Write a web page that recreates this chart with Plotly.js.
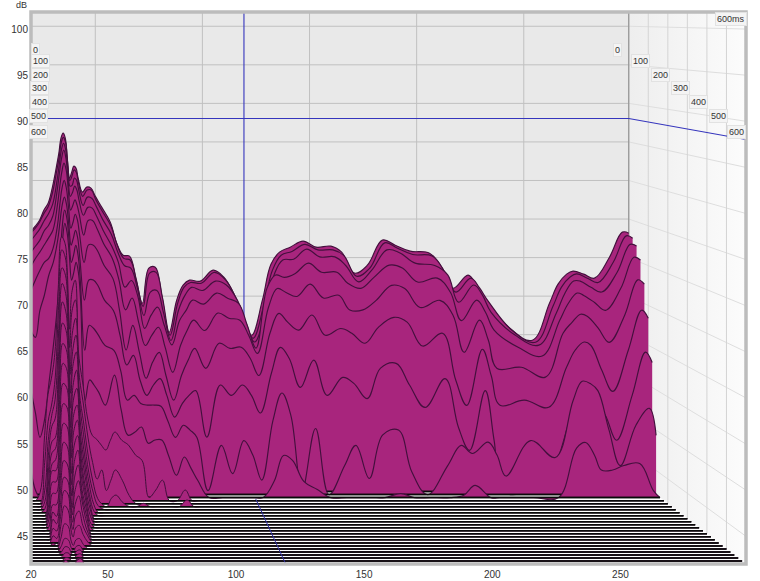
<!DOCTYPE html>
<html><head><meta charset="utf-8">
<script src="https://cdn.plot.ly/plotly-3.0.1.min.js"></script>
<style>html,body{margin:0;padding:0;background:#fff}#c{width:760px;height:581px}</style>
</head><body><div id="c"></div>
<script>
const freqs=[20,22,24,26,28,30,32,33,34,35,36,37,38,39,40,41,42,44,46,48,50,53,57,60,63,66,69,72,75,78,81,84.5,88,91,94,99,105,110,115,119,123,128,132,136,141,147,153,160,165,171,177,184,190,197,206,212,217,224,228,232,243,254,262,266,270,273,278,283,290,296,299];
const ms0=[73.43,74.08,74.85,76.15,77.06,79.14,81.99,83.55,85.5,86.15,85.5,82.64,80.31,81.08,81.86,81.6,80.31,78.49,79.14,79.01,77.97,76.54,74.6,71.87,70.31,70.18,67.33,64.08,68.63,68.75,65.12,60.32,64.47,66.42,67.07,66.94,68.37,67.46,65.12,62.14,59.93,64.47,69.14,70.7,71.35,72.13,71.35,71.48,70.7,67.98,69.01,72.26,71.61,70.83,70.57,68.63,66.03,67.72,66.42,64.73,60.97,59.28,64.08,66.55,67.85,68.24,67.85,67.33,70.05,73.3,73.17];
const ms20=[73.4,74.0,74.8,75.9,76.8,78.6,81.5,83.0,85.0,85.7,85.1,82.4,80.1,80.7,81.5,81.2,79.9,78.1,78.9,78.9,77.7,76.2,74.3,71.8,70.1,69.9,67.0,63.9,68.2,68.3,65.0,60.2,64.3,66.4,67.0,66.9,68.3,67.4,65.0,62.1,59.8,64.1,68.6,70.5,71.0,71.9,71.2,71.2,70.5,67.8,68.8,72.1,71.4,70.6,70.4,68.3,65.75,67.55,66.3,64.6,60.85,59.3,63.9,66.4,67.7,68.1,67.55,67.0,69.6,73.0,72.7];
const ms40=[72.6,73.3,74.05,75.1,76.0,77.25,80.3,82.25,84.2,85.05,84.2,81.6,79.55,79.7,80.6,80.3,79.05,77.1,78.15,78.0,77.0,75.3,73.4,71.1,69.4,69.05,66.5,63.0,66.0,66.2,63.4,59.8,63.7,65.6,66.6,66.2,67.4,66.9,65.0,62.1,59.6,63.4,68.2,70.1,70.2,71.5,70.5,70.5,69.4,67.3,68.8,71.4,71.0,69.7,69.4,68.2,64.7,66.9,65.6,63.4,60.5,59.2,63.3,65.85,67.4,67.4,66.6,66.0,68.5,72.1,71.9];
const ms60=[71.3,72.05,72.8,74.0,74.7,75.9,79.2,81.35,83.25,84.3,83.25,80.45,78.4,78.9,79.7,79.2,77.9,76.0,77.0,76.9,75.9,74.1,72.05,70.0,66.85,67.7,65.6,61.6,63.3,64.3,62.0,59.5,62.6,63.9,65.2,64.7,66.1,65.45,64.8,62.0,59.1,66.7,68.4,68.1,68.6,69.9,68.75,68.75,67.35,66.7,68.1,69.65,69.3,67.5,68.0,66.2,62.6,65.2,63.7,61.4,59.2,58.1,62.6,64.8,66.1,65.8,64.9,63.9,66.7,70.65,70.3];
const ms80=[69.7,70.7,71.5,72.4,73.3,74.3,77.4,79.6,81.6,82.75,81.9,79.3,76.8,77.4,78.1,77.4,76.2,73.65,75.5,75.5,74.5,72.6,70.7,68.0,64.2,65.7,62.6,59.7,61.0,62.0,59.5,56.3,59.7,61.6,62.9,61.6,63.8,63.15,62.9,61.0,58.7,64.5,66.9,66.4,65.9,67.45,65.7,66.05,64.2,64.2,65.4,67.3,66.9,64.5,65.4,63.5,58.85,62.9,60.4,56.8,56.95,55.7,61.25,62.6,63.65,63.4,61.9,60.1,63.5,68.0,67.45];
const ms100=[66.9,68.2,69.4,70.4,70.9,72.2,75.1,77.6,79.7,80.7,79.7,77.2,74.7,75.45,76.45,75.7,73.8,70.4,72.6,72.6,71.9,70.05,68.4,64.4,59.4,62.5,59.1,55.85,57.9,59.1,56.2,53.1,56.2,58.1,59.6,57.1,60.25,59.6,59.75,58.4,56.2,61.5,64.0,62.9,61.9,63.8,61.25,62.1,61.5,60.25,62.25,63.5,62.9,59.9,61.5,55.6,52.45,59.5,56.2,52.45,53.1,52.2,57.2,59.4,60.4,60.0,56.85,54.2,59.4,64.4,63.4];
const ms120=[62.1,61.25,64.6,66.5,69.0,70.6,73.4,75.6,77.75,78.75,77.75,75.25,72.75,73.6,74.6,73.6,70.9,65.9,68.4,68.4,67.75,65.9,64.6,61.5,57.8,59.0,55.9,54.0,55.3,56.1,54.0,51.3,53.0,54.0,54.6,48.8,55.3,54.0,55.3,54.0,51.8,56.8,60.0,58.6,55.0,58.4,54.0,56.25,55.5,53.6,57.4,58.0,55.3,52.5,56.1,50.0,47.15,54.6,48.4,42,42,44.65,50.9,53.4,54.0,53.4,51.5,48.4,54.0,59.4,58.1];
const ms140=[54.9,52.1,49.1,51.2,55.8,60.5,66.1,71.1,75.4,77.3,76.3,73.55,70.8,71.7,72.9,71.7,68.6,59.9,63.0,62.6,61.8,60.5,59.9,57.4,53.7,54.3,53.3,53.1,53.1,52.95,51.2,49.1,50.6,50.0,49.1,42.5,48.1,44.6,48.7,46.9,43.8,51.2,54.6,51.8,42.5,50.2,42,45.6,48.1,44.0,49.4,50.0,44.8,42,45.6,48.1,47.1,48.5,46.9,44.3,48.7,46.6,53.7,56.05,55.7,54.9,50.0,45.6,50.6,52.7,49.35];
const ms160=[45.4,42.9,42,42,45.4,50.3,57.7,66.3,73.7,75.8,74.7,71.9,68.8,69.8,71.0,69.8,66.3,54.0,56.5,55.85,55.0,53.4,57.1,52.8,49.7,50.05,50.7,48.7,49.1,49.1,47.2,44.75,47.0,45.6,44.1,42,42,42,42,42,42,44.1,47.2,46.6,44.0,43.0,42,42,42,42,42,42.5,42,42,42,42.3,43.5,42,42,42,42,42,48.1,48.8,47.2,45.4,45.4,45.95,46.2,42.9,42];
const lateFreqs=[24,26,27.5,29,30.5,32,33.5,35,36,37,38,39.5,41,43,45,47,49];
const ms180=[43,50,55,57,60,68,74.3,73.5,70,63,67.5,69,60,56,52,50,49.5];
const ms200=[42,47,52,54,57,65.5,72.9,72,68,61,65.5,66.8,58,54,50,47,45];
const ms220=[42,44,50,53,55,63,70.9,70,66,58,63,64.8,56,52,48,45,43];
const ms240=[42,43,48.5,52,53,61,69.2,68,64,56,61,63,55,50.5,46.5,44,42.5];
const ms260=[42,42.5,47,50.5,51,59,67.2,66,62,54.5,59.5,61.2,53.5,49,45.5,43,42];
const ms280=[42,42,46,49.5,50,57,64.9,64,60,52.5,57.5,59.3,52,48,44.5,42.5,42];
const ms300=[42,42,45,48.5,49,55,62.7,62,58,51,56,57.4,51,47,44,42,42];
const ms320=[42,42,44,48,48,53.5,60.6,60,56,49.5,54.5,55.7,50,46,43.5,42,42];
const ms340=[42,42,43.5,47,47,52,58.5,58,54,48,53,54.2,49,45.5,43,42,42];
const ms360=[42,42,43,46,46,50.5,56.4,56,52,47,51.5,52.7,48,45,42.5,42,42];
const ms380=[42,42,42.5,45,45,49,54.4,54,50,46,50,51.3,47,44.5,42.3,42,42];
const ms400=[42,42,42,44.5,44,48,52.5,52,48.5,45,48.5,49.9,46.5,44,42,42,42];
const ms420=[42,42,42,44,43.5,47,50.7,50.2,47,44.5,47.2,48.4,46,43.5,42,42,42];
const ms440=[42,42,42,43.3,43,46,49.1,48.7,46,44,46,47,45,43,42,42,42];
const ms460=[42,42,42,42.8,42.5,45,47.9,47.5,45,43.5,45,45.6,44,42.8,42,42,42];
const ms480=[42,42,42,42.3,42,44.2,46.5,46,44,43,44,44.3,43.3,42.4,42,42,42];
const ms500=[42,42,42,42,42,43.2,44.8,44.5,43,42.4,43,43.15,42.5,42,42,42,42];
const ms520=[42,42,42,42,42,42.6,43.5,43.3,42.5,42.1,42.6,42.7,42.1,42,42,42,42];
const ms540=[42,42,42,42,42,42.3,42.9,42.8,42.2,42,42.4,42.55,42,42,42,42,42];
const ms560=[42,42,42,42,42,42.1,42.55,42.5,42,42,42.3,42.45,42,42,42,42,42];
const ms580=[42,42,42,42,42,42,42.35,42.3,42,42,42.2,42.35,42,42,42,42,42];
const ms600=[42,42,42,42,42,42,42.4,42.1,42,42,42.4,42.6,42,42,42,42,42];
const extFreqs=[51,53,55,57,60,63,66,69,72,75,78,81,84.5,88,91,94];
const ext180=[48.8,48.2,49.4,50.4,49.4,48.8,47.6,46.9,42.4,43.3,44.5,42,42,43.3,42,42];
const ext200=[46.1,43.6,44.85,46.1,44.85,43.0,42,42,42,42,42,42,42,42,42,42];
const ext220=[42.3,42,43,43.4,42.5,42,42,42.4,42,42,42,42,42,42.8,42,42];
const tailHz=[52,55,60,70,96,100,110,130,170,230,299];
const timeLabels=['0','100','200','300','400','500','600'];
const dbTicks=[45,50,55,60,65,70,75,80,85,90,95,100];
const hzTicks=[20,50,100,150,200,250,299];
const hzText=['20','50','100','150','200','250','299 Hz'];
const gridHz=[50,100,150,200,250];
const gridMs=[100,200,300,400,500];
const cursorHz=119.4, cursorDb=88.03;

const DB_MIN=42, DB_TOP=101.85, F0=20, F1=299, BACK=0.836;
const scaleAt=t=>BACK+(1-BACK)*t/600;
const px=(f,t)=>F0+(f-F0)*scaleAt(t);
const py=(d,t)=>DB_TOP-(DB_TOP-d)*scaleAt(t);
const line=(pts,color,width,extra)=>Object.assign({type:'scatter',mode:'lines',hoverinfo:'skip',showlegend:false,
  x:pts.map(p=>px(p[0],p[2])),y:pts.map(p=>py(p[1],p[2])),line:{color,width}},extra||{});

const traces=[];
traces.push(line([[F0,DB_MIN,0],[F1,DB_MIN,0],[F1,DB_TOP,0],[F0,DB_TOP,0],[F0,DB_MIN,0]],'rgba(0,0,0,0)',0,{fill:'toself',fillcolor:'#e9e9e9'}));
traces.push(line([[F1,DB_MIN,0],[F1,DB_MIN,600],[F1,DB_TOP,600],[F1,DB_TOP,0],[F1,DB_MIN,0]],'rgba(0,0,0,0)',0,
  {fill:'toself',fillgradient:{type:'horizontal',colorscale:[[0,'#eeeeee'],[1,'#fcfcfc']]}}));
const gridC='#c0c0c0', wallC='#dedede';
dbTicks.forEach(d=>{
  traces.push(line([[F0,d,0],[F1,d,0]],gridC,1));
  traces.push(line([[F1,d,0],[F1,d,600]],wallC,1));
});
gridHz.forEach(f=>traces.push(line([[f,DB_MIN,0],[f,DB_TOP,0]],gridC,1)));
gridMs.forEach(t=>traces.push(line([[F1,DB_MIN,t],[F1,DB_TOP,t]],'#d4d4d4',1)));
traces.push(line([[F1,DB_MIN,0],[F1,DB_TOP,0]],'#9a9a9a',1.4));
const blue='#3535bd';
traces.push(line([[F0,cursorDb,0],[F1,cursorDb,0],[F1,cursorDb,600]],blue,1.1));
traces.push(line([[cursorHz,DB_MIN,0],[cursorHz,DB_TOP,0]],blue,1.1));
traces.push(line([[F0,DB_MIN,0],[F1,DB_MIN,0],[F1,DB_MIN,600],[F0,DB_MIN,600],[F0,DB_MIN,0]],'rgba(0,0,0,0)',0,{fill:'toself',fillcolor:'#ffffff'}));
const early=[ms0,ms20,ms40,ms60,ms80,ms100,ms120,ms140,ms160];
const late=[ms180,ms200,ms220,ms240,ms260,ms280,ms300,ms320,ms340,ms360,ms380,ms400,ms420,ms440,ms460,ms480,ms500,ms520,ms540,ms560,ms580,ms600];
const exts=[ext180,ext200,ext220];
function addSlice(t,fs,vals){
  traces.push(line([[F0,DB_MIN,t],[F1,DB_MIN,t]],'#0a0a0a',1.5));
  traces.push({type:'scatter',mode:'lines',hoverinfo:'skip',showlegend:false,
    x:fs.map(f=>px(f,t)),y:vals.map(d=>py(Math.max(d,DB_MIN),t)),
    line:{color:'#43103d',width:t>170?1:1.15,shape:'spline',smoothing:1.1},
    fill:'tonexty',fillcolor:'#a8257d'});
  traces.push(line([[F0,DB_MIN,t],[F1,DB_MIN,t]],'#0a0a0a',1.5));
}
early.forEach((v,i)=>addSlice(i*20,freqs,v));
late.forEach((v,i)=>{
  const e=exts[i];
  const tail=tailHz.filter(f=>f>(e?94:49));
  const fs=[F0,22].concat(lateFreqs,e?extFreqs:[],tail);
  const vs=[DB_MIN,DB_MIN].concat(v,e||[],tail.map(()=>DB_MIN));
  addSlice(180+i*20,fs,vs);
});
traces.push(line([[cursorHz,DB_MIN,170],[cursorHz,DB_MIN,600]],'#3030a8',1));

const font={family:'"Liberation Sans",Arial,sans-serif',size:10,color:'#333'};
const W=715,H=551.6,ML=31,MT=12;
const note=(text,xp,yp,boxed)=>Object.assign({text,xref:'paper',yref:'paper',x:(xp-ML)/W,y:1-(yp-MT)/H,showarrow:false,
  font:{family:font.family,size:9,color:'#333'},xanchor:'center',yanchor:'middle'},
  boxed?{bgcolor:'#f4f4f4',bordercolor:'#e2e2e2',borderwidth:1,borderpad:1}:{});
const annotations=[note('dB',21,5,false),note('600ms',731,19,true)];
const leftX=[35,40,40,39,39,38,38], leftY=[50,61,75,88,102,116,132], rightX=[617,640,660,680,698,718,736];
timeLabels.forEach((s,i)=>{
  annotations.push(note(s,leftX[i],leftY[i],true));
  annotations.push(note(s,rightX[i],leftY[i],true));
});
Plotly.newPlot('c',traces,{
  width:760,height:581,
  margin:{l:ML,t:MT,r:760-ML-W,b:581-MT-H,pad:0},
  paper_bgcolor:'#ffffff',plot_bgcolor:'#ffffff',showlegend:false,
  xaxis:{range:[F0,F1],tickvals:hzTicks,ticktext:hzText,showgrid:false,zeroline:false,ticks:'',tickfont:font,ticklabelstandoff:3,fixedrange:true,automargin:false},
  yaxis:{range:[DB_MIN,DB_TOP],tickvals:dbTicks,showgrid:false,zeroline:false,ticks:'',tickfont:font,ticklabelstandoff:2,fixedrange:true,automargin:false},
  shapes:[{type:'rect',xref:'paper',yref:'paper',x0:0,x1:1,y0:0,y1:1,line:{color:'#bcbcbc',width:3.5},layer:'above'}],
  annotations
},{displayModeBar:false,staticPlot:true});
</script></body></html>
